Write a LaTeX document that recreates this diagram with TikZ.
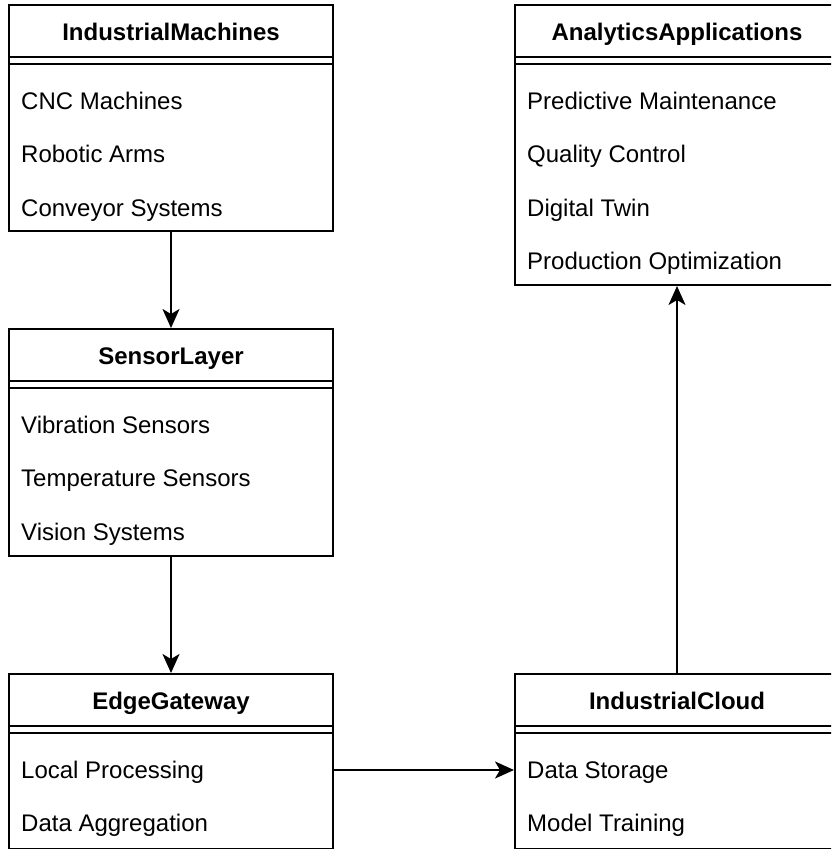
\documentclass[tikz,border=0pt]{standalone}
\usepackage{fontspec}
\setmainfont{Liberation Sans}
\usetikzlibrary{arrows.meta}

% one class box: name, left, top, height, title, items
\newcommand\classbox[6]{%
  \node[classframe, minimum height=#4, anchor=north west] (#1) at (#2,#3) {};
  \node[classtitle] (#1-title) at ([yshift=-36.5pt]#1.north) {#5};
  \draw[rule] ([yshift=-53pt]#1.north west) -- ([yshift=-53pt]#1.north east);
  \draw[rule] ([yshift=-60pt]#1.north west) -- ([yshift=-60pt]#1.north east);
  \foreach \t [count=\i, evaluate=\i as \dy using -105-53.5*(\i-1)] in {#6}
    \node[classitem] (#1-item\i) at ([xshift=13pt, yshift=\dy pt]#1.north west) {\t};
}

\begin{document}
\begin{tikzpicture}[x=1pt, y=-1pt,
  classframe/.style={draw=black, line width=2pt, fill=white, minimum width=324pt, inner sep=0pt},
  classtitle/.style={anchor=base, inner sep=0pt, font=\fontsize{24pt}{28pt}\selectfont\bfseries},
  classitem/.style={anchor=base west, inner sep=0pt, font=\fontsize{24pt}{28pt}\selectfont},
  rule/.style={line width=2pt},
  flow/.style={line width=2pt, -{Stealth[length=19pt, width=17pt, inset=5pt]}}]
  \clip (0,0) rectangle (831,849);
  \fill[white] (0,0) rectangle (831,849);

  \classbox{machines}{8}{4}{226pt}{IndustrialMachines}{CNC Machines, Robotic Arms, Conveyor Systems}
  \classbox{analytics}{514}{4}{280pt}{AnalyticsApplications}{Predictive Maintenance, Quality Control, Digital Twin, Production Optimization}
  \classbox{sensors}{8}{328}{227pt}{SensorLayer}{Vibration Sensors, Temperature Sensors, Vision Systems}
  \classbox{edge}{8}{673}{175pt}{EdgeGateway}{Local Processing, Data Aggregation}
  \classbox{cloud}{514}{673}{175pt}{IndustrialCloud}{Data Storage, Model Training}

  \draw[flow] (machines.south) -- (sensors.north);
  \draw[flow] (sensors.south) -- (edge.north);
  \draw[flow] ([yshift=-97pt]edge.north east) -- ([yshift=-97pt]cloud.north west);
  \draw[flow] (cloud.north) -- (analytics.south);
\end{tikzpicture}
\end{document}
